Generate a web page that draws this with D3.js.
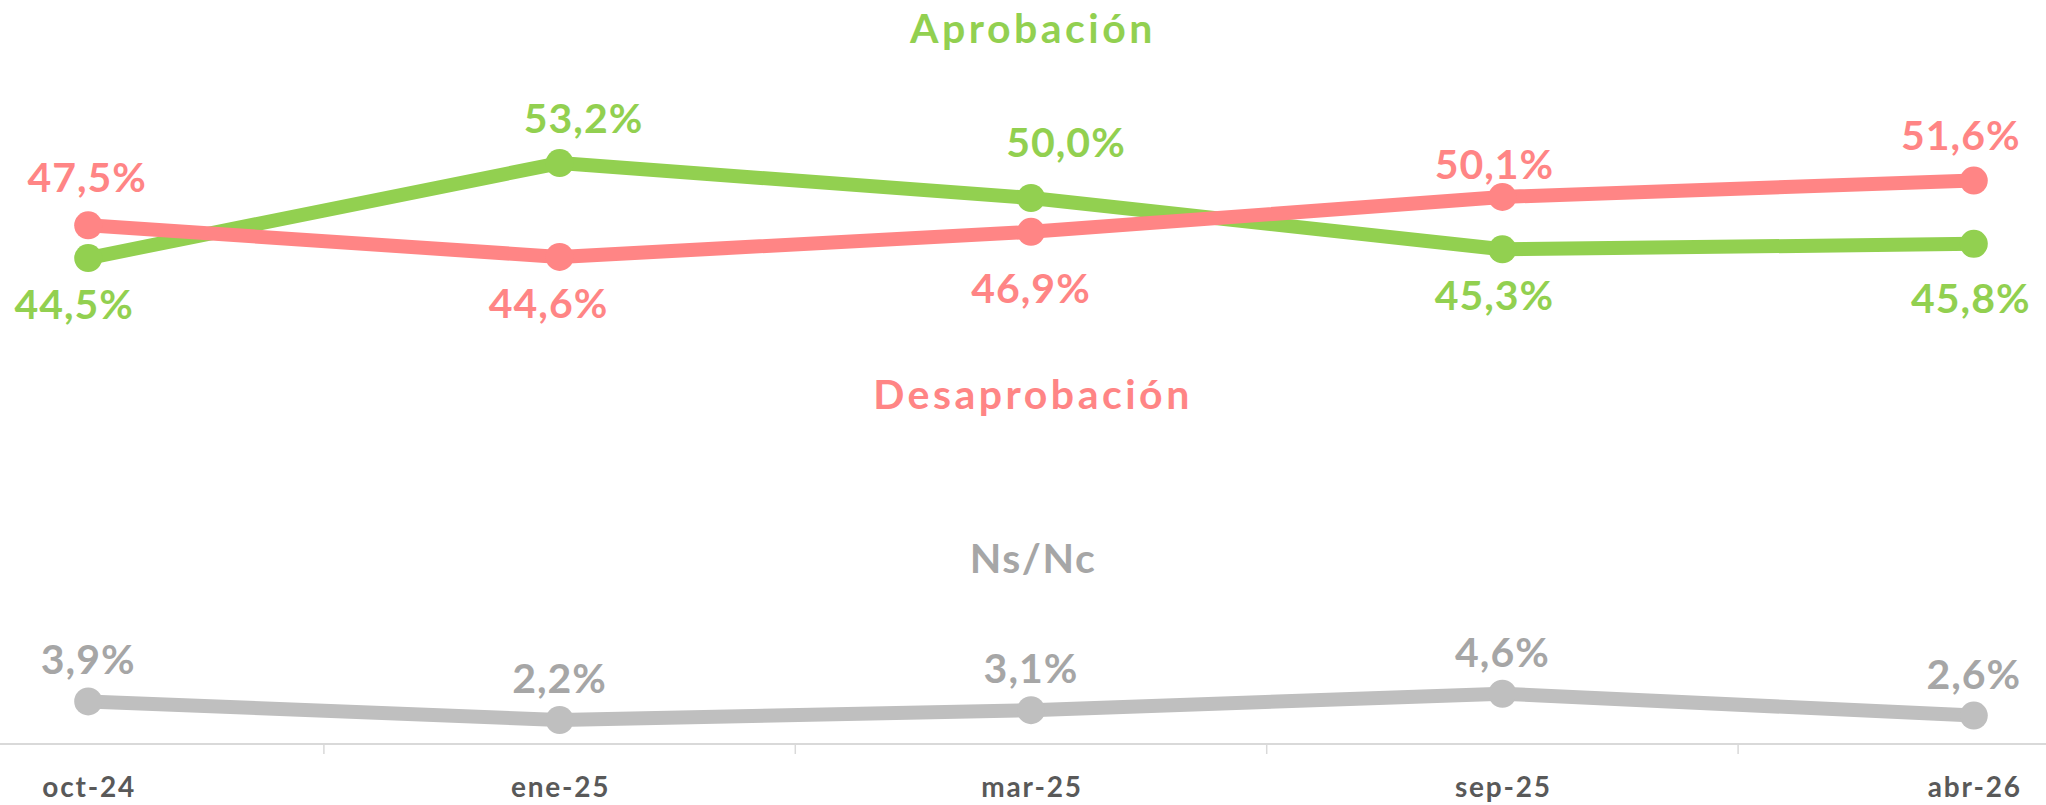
<!DOCTYPE html>
<html>
<head>
<meta charset="utf-8">
<script src="https://cdn.jsdelivr.net/npm/d3@7"></script>
<style>
  html, body { margin: 0; padding: 0; background: #ffffff; }
  svg { display: block; }
  text { font-family: "Century Gothic", "Lato", sans-serif; font-weight: bold; }
</style>
</head>
<body>
<svg id="chart" width="2046" height="805"></svg>
<script>
// Survey waves
const periods = ["oct-24", "ene-25", "mar-25", "sep-25", "abr-26"];

// Share of respondents (%)
const aprobacion    = [44.5, 53.2, 50.0, 45.3, 45.8];
const desaprobacion = [47.5, 44.6, 46.9, 50.1, 51.6];
const nsnc          = [3.9, 2.2, 3.1, 4.6, 2.6];

// Series names shown as headings
const seriesNames = ["Aprobación", "Desaprobación", "Ns/Nc"];

// Label nudges relative to each point: [dx, dy of baseline]
const nudgeAprob = [[-14, 61], [24, -30], [35, -41], [-8, 61], [-3, 69]];
const nudgeDesap = [[-1, -33], [-11, 61], [0, 71], [-8, -18], [-13, -31]];
const nudgeNsnc  = [[0, -27], [0, -27], [0, -27], [0, -27], [0, -27]];

const W = 2046, H = 805;
const svg = d3.select("#chart");

const x = d3.scaleBand().domain(periods).range([-147.5, 2209.5]).padding(0);
const cx = d => x(d) + x.bandwidth() / 2;
const y = d3.scaleLinear().domain([0, 60]).range([744, 88.8]);

const fmt = v => d3.format(".1f")(v).replace(".", ",") + "%";

// Category axis with ticks between categories
const axisY = 744;
svg.append("line")
  .attr("x1", 0).attr("x2", W)
  .attr("y1", axisY).attr("y2", axisY)
  .attr("stroke", "#d9d9d9").attr("stroke-width", 2);

const bounds = periods.map(p => x(p)).concat([x(periods[periods.length - 1]) + x.bandwidth()]);
svg.append("g").selectAll("line")
  .data(bounds.filter(b => b > 0 && b < W))
  .join("line")
  .attr("x1", d => d).attr("x2", d => d)
  .attr("y1", axisY).attr("y2", axisY + 10)
  .attr("stroke", "#d9d9d9").attr("stroke-width", 1.5);

svg.append("g").selectAll("text")
  .data(periods)
  .join("text")
  .attr("x", d => cx(d) + 1)
  .attr("y", 797)
  .attr("text-anchor", "middle")
  .attr("font-size", 28)
  .attr("letter-spacing", 1.8)
  .attr("fill", "#595959")
  .text(d => d);

// Series headings
const headings = [
  { name: seriesNames[0], y: 43, color: "#92d050", spacing: 3.5 },
  { name: seriesNames[1], y: 409, color: "#ff8585", spacing: 3.5 },
  { name: seriesNames[2], y: 573, color: "#a6a6a6", spacing: 1.5 }
];
svg.append("g").selectAll("text")
  .data(headings)
  .join("text")
  .attr("x", 1033)
  .attr("y", d => d.y)
  .attr("text-anchor", "middle")
  .attr("font-size", 41)
  .attr("letter-spacing", d => d.spacing)
  .attr("fill", d => d.color)
  .text(d => d.name);

const line = d3.line().x((d, i) => cx(periods[i])).y(d => y(d));

function drawSeries(values, lineColor, labelColor, nudges) {
  const g = svg.append("g");
  g.append("path")
    .datum(values)
    .attr("d", line)
    .attr("fill", "none")
    .attr("stroke", lineColor)
    .attr("stroke-width", 14)
    .attr("stroke-linejoin", "round");
  g.selectAll("circle")
    .data(values)
    .join("circle")
    .attr("cx", (d, i) => cx(periods[i]))
    .attr("cy", d => y(d))
    .attr("r", 14)
    .attr("fill", lineColor);
  return { g, values, labelColor, nudges };
}

function drawLabels(s) {
  s.g.append("g").selectAll("text")
    .data(s.values)
    .join("text")
    .attr("x", (d, i) => cx(periods[i]) + s.nudges[i][0])
    .attr("y", (d, i) => y(d) + s.nudges[i][1])
    .attr("text-anchor", "middle")
    .attr("font-size", 41)
    .attr("letter-spacing", 1)
    .attr("fill", s.labelColor)
    .text(d => fmt(d));
}

const sGray  = drawSeries(nsnc, "#bfbfbf", "#a6a6a6", nudgeNsnc);
const sGreen = drawSeries(aprobacion, "#92d050", "#92d050", nudgeAprob);
const sRed   = drawSeries(desaprobacion, "#ff8585", "#ff8585", nudgeDesap);
[sGray, sGreen, sRed].forEach(drawLabels);
</script>
</body>
</html>
